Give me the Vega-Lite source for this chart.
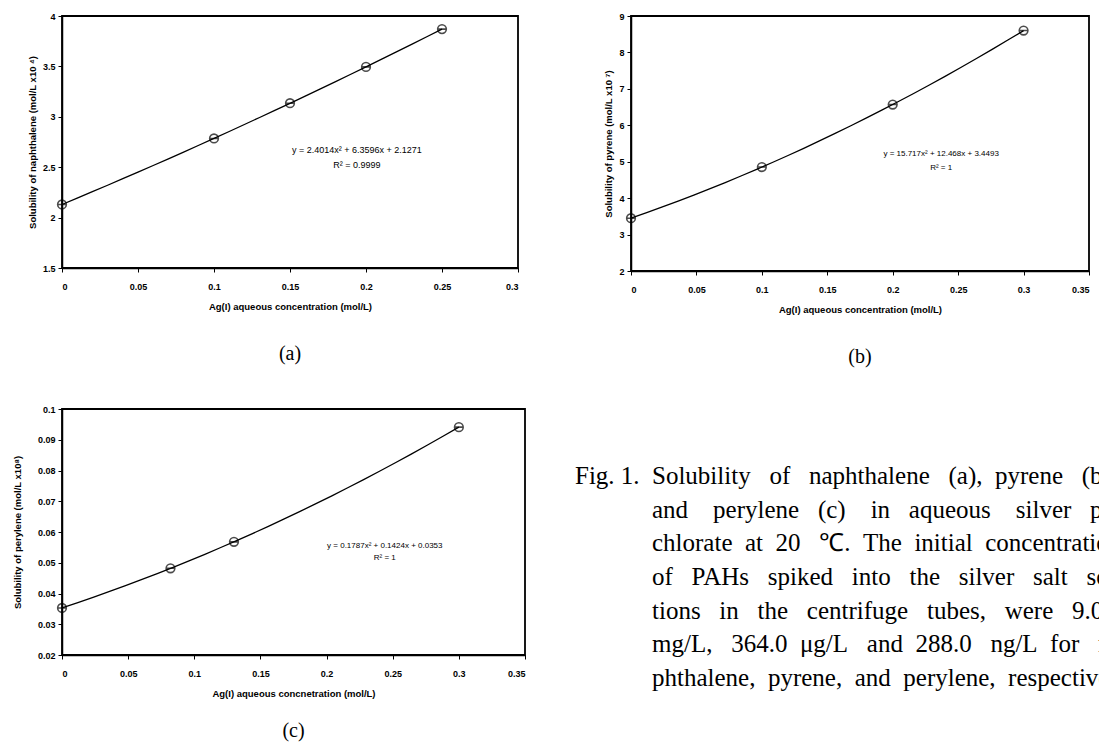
{
  "$schema": "https://vega.github.io/schema/vega-lite/v6.json",
  "background": "white",
  "padding": {"left": 11, "top": 11, "right": 0, "bottom": 0},
  "config": {
    "view": {"stroke": "black", "strokeWidth": 1.8},
    "axis": {"grid": false, "domainColor": "black", "domainWidth": 1.5, "tickColor": "black", "tickSize": 4, "tickWidth": 1, "tickCount": 30,
      "labelFont": "Liberation Sans", "labelFontSize": 9, "labelColor": "black", "labelFontWeight": "bold", "labelOverlap": false,
      "titleFont": "Liberation Sans", "titleFontSize": 9.5, "titleFontWeight": "bold", "titleColor": "black"},
    "axisX": {"labelPadding": 10, "titlePadding": 10},
    "axisY": {"labelPadding": 3, "titlePadding": 5},
    "title": {"font": "Liberation Serif", "fontSize": 20, "fontWeight": "normal", "orient": "bottom", "color": "black", "offset": 33}
  },
  "datasets": {
    "nap": [
      {"x": 0, "y": 2.13}, {"x": 0.1, "y": 2.785}, {"x": 0.15, "y": 3.135}, {"x": 0.2, "y": 3.495}, {"x": 0.25, "y": 3.87}
    ],
    "pyr": [
      {"x": 0, "y": 3.449}, {"x": 0.1, "y": 4.853}, {"x": 0.2, "y": 6.57}, {"x": 0.3, "y": 8.6}
    ],
    "per": [
      {"x": 0, "y": 0.0353}, {"x": 0.082, "y": 0.0482}, {"x": 0.13, "y": 0.0568}, {"x": 0.3, "y": 0.0941}
    ],
    "eq": [
      {"panel": "a", "x": 0.194, "y": 2.67, "label": "y = 2.4014x² + 6.3596x + 2.1271"},
      {"panel": "a", "x": 0.194, "y": 2.52, "label": "R² = 0.9999"},
      {"panel": "b", "x": 0.237, "y": 5.22, "label": "y = 15.717x² + 12.468x + 3.4493"},
      {"panel": "b", "x": 0.237, "y": 4.82, "label": "R² = 1"},
      {"panel": "c", "x": 0.244, "y": 0.0556, "label": "y = 0.1787x² + 0.1424x + 0.0353"},
      {"panel": "c", "x": 0.244, "y": 0.0514, "label": "R² = 1"}
    ],
    "cap": [
      {"line": 1, "indent": 0, "text": "Fig. 1."},
      {"line": 1, "indent": 1, "text": "Solubility\u00a0\u00a0\u00a0of\u00a0\u00a0\u00a0naphthalene\u00a0\u00a0\u00a0(a),\u00a0\u00a0pyrene\u00a0\u00a0\u00a0(b)"},
      {"line": 2, "indent": 1, "text": "and\u00a0\u00a0\u00a0\u00a0perylene\u00a0\u00a0\u00a0(c)\u00a0\u00a0\u00a0\u00a0in\u00a0\u00a0\u00a0aqueous\u00a0\u00a0\u00a0\u00a0silver\u00a0\u00a0\u00a0per-"},
      {"line": 3, "indent": 1, "text": "chlorate\u00a0\u00a0at\u00a0\u00a020\u00a0\u00a0\u00a0℃.\u00a0\u00a0The\u00a0\u00a0initial\u00a0\u00a0concentrations"},
      {"line": 4, "indent": 1, "text": "of\u00a0\u00a0\u00a0PAHs\u00a0\u00a0\u00a0spiked\u00a0\u00a0\u00a0into\u00a0\u00a0\u00a0the\u00a0\u00a0\u00a0silver\u00a0\u00a0\u00a0salt\u00a0\u00a0\u00a0solu-"},
      {"line": 5, "indent": 1, "text": "tions\u00a0\u00a0\u00a0in\u00a0\u00a0\u00a0the\u00a0\u00a0\u00a0centrifuge\u00a0\u00a0\u00a0tubes,\u00a0\u00a0\u00a0were\u00a0\u00a0\u00a09.0"},
      {"line": 6, "indent": 1, "text": "mg/L,\u00a0\u00a0\u00a0364.0\u00a0\u00a0μg/L\u00a0\u00a0\u00a0and\u00a0\u00a0288.0\u00a0\u00a0\u00a0ng/L\u00a0\u00a0for\u00a0\u00a0\u00a0na-"},
      {"line": 7, "indent": 1, "text": "phthalene,\u00a0\u00a0pyrene,\u00a0\u00a0and\u00a0\u00a0perylene,\u00a0\u00a0respectively."}
    ]
  },
  "vconcat": [
    {
      "hconcat": [
        {
          "width": 456, "height": 252,
          "title": {"text": "(a)"},
          "data": {"name": "nap"},
          "layer": [
            {
              "transform": [{"regression": "y", "on": "x", "method": "poly", "order": 2}],
              "mark": {"type": "line", "color": "black", "strokeWidth": 1.3},
              "encoding": {
                "x": {"field": "x", "type": "quantitative", "scale": {"domain": [0, 0.3], "nice": false},
                  "axis": {"title": "Ag(I) aqueous concentration (mol/L)", "values": [0, 0.05, 0.1, 0.15, 0.2, 0.25, 0.3], "tickCount": 30, "format": "~g", "labelOverlap": false}},
                "y": {"field": "y", "type": "quantitative", "scale": {"domain": [1.5, 4], "nice": false, "zero": false},
                  "axis": {"title": "Solubility of naphthalene (mol/L x10 ⁴)", "values": [1.5, 2, 2.5, 3, 3.5, 4], "tickCount": 30, "format": "~g", "labelOverlap": false}}
              }
            },
            {
              "mark": {"type": "point", "shape": "M-1,0A1,1 0 1,1 1,0A1,1 0 1,1 -1,0ZM-1,0L1,0", "filled": false, "color": "black", "size": 75, "strokeWidth": 1.6},
              "encoding": {
                "x": {"field": "x", "type": "quantitative"},
                "y": {"field": "y", "type": "quantitative"}
              }
            },
            {
              "data": {"name": "eq"},
              "transform": [{"filter": "datum.panel == 'a'"}],
              "mark": {"type": "text", "font": "Liberation Sans", "fontSize": 9, "color": "black"},
              "encoding": {
                "x": {"field": "x", "type": "quantitative"},
                "y": {"field": "y", "type": "quantitative"},
                "text": {"field": "label"}
              }
            }
          ]
        },
        {
          "width": 458, "height": 255,
          "title": {"text": "(b)"},
          "data": {"name": "pyr"},
          "layer": [
            {
              "transform": [{"regression": "y", "on": "x", "method": "poly", "order": 2}],
              "mark": {"type": "line", "color": "black", "strokeWidth": 1.3},
              "encoding": {
                "x": {"field": "x", "type": "quantitative", "scale": {"domain": [0, 0.35], "nice": false},
                  "axis": {"title": "Ag(I) aqueous concentration (mol/L)", "values": [0, 0.05, 0.1, 0.15, 0.2, 0.25, 0.3, 0.35], "tickCount": 30, "format": "~g", "labelOverlap": false}},
                "y": {"field": "y", "type": "quantitative", "scale": {"domain": [2, 9], "nice": false, "zero": false},
                  "axis": {"title": "Solubility of pyrene (mol/L x10 ⁷)", "values": [2, 3, 4, 5, 6, 7, 8, 9], "tickCount": 30, "format": "~g", "labelOverlap": false}}
              }
            },
            {
              "mark": {"type": "point", "shape": "M-1,0A1,1 0 1,1 1,0A1,1 0 1,1 -1,0ZM-1,0L1,0", "filled": false, "color": "black", "size": 75, "strokeWidth": 1.6},
              "encoding": {
                "x": {"field": "x", "type": "quantitative"},
                "y": {"field": "y", "type": "quantitative"}
              }
            },
            {
              "data": {"name": "eq"},
              "transform": [{"filter": "datum.panel == 'b'"}],
              "mark": {"type": "text", "font": "Liberation Sans", "fontSize": 8, "color": "black"},
              "encoding": {
                "x": {"field": "x", "type": "quantitative"},
                "y": {"field": "y", "type": "quantitative"},
                "text": {"field": "label"}
              }
            }
          ]
        }
      ],
      "spacing": 83
    },
    {
      "hconcat": [
        {
          "width": 463, "height": 246,
          "title": {"text": "(c)", "offset": 23},
          "data": {"name": "per"},
          "layer": [
            {
              "transform": [{"regression": "y", "on": "x", "method": "poly", "order": 2}],
              "mark": {"type": "line", "color": "black", "strokeWidth": 1.3},
              "encoding": {
                "x": {"field": "x", "type": "quantitative", "scale": {"domain": [0, 0.35], "nice": false},
                  "axis": {"title": "Ag(I) aqueous concnetration (mol/L)", "values": [0, 0.05, 0.1, 0.15, 0.2, 0.25, 0.3, 0.35], "tickCount": 30, "format": "~g", "labelOverlap": false}},
                "y": {"field": "y", "type": "quantitative", "scale": {"domain": [0.02, 0.1], "nice": false, "zero": false},
                  "axis": {"title": "Solubility of perylene (mol/L x10⁸)", "titlePadding": 15, "values": [0.02, 0.03, 0.04, 0.05, 0.06, 0.07, 0.08, 0.09, 0.1], "tickCount": 30, "format": "~g", "labelOverlap": false}}
              }
            },
            {
              "mark": {"type": "point", "shape": "M-1,0A1,1 0 1,1 1,0A1,1 0 1,1 -1,0ZM-1,0L1,0", "filled": false, "color": "black", "size": 75, "strokeWidth": 1.6},
              "encoding": {
                "x": {"field": "x", "type": "quantitative"},
                "y": {"field": "y", "type": "quantitative"}
              }
            },
            {
              "data": {"name": "eq"},
              "transform": [{"filter": "datum.panel == 'c'"}],
              "mark": {"type": "text", "font": "Liberation Sans", "fontSize": 8, "color": "black"},
              "encoding": {
                "x": {"field": "x", "type": "quantitative"},
                "y": {"field": "y", "type": "quantitative"},
                "text": {"field": "label"}
              }
            }
          ]
        },
        {
          "width": 77, "height": 246,
          "view": {"stroke": null},
          "data": {"name": "cap"},
          "mark": {"type": "text", "font": "Liberation Serif", "fontSize": 25, "color": "black", "align": "left", "baseline": "middle"},
          "encoding": {
            "x": {"field": "indent", "type": "quantitative", "scale": {"domain": [0, 1]}, "axis": null},
            "y": {"field": "line", "type": "quantitative", "scale": {"domain": [1, 7], "range": [67, 269]}, "axis": null},
            "text": {"field": "text"}
          }
        }
      ],
      "spacing": 48
    }
  ],
  "spacing": 36
}
